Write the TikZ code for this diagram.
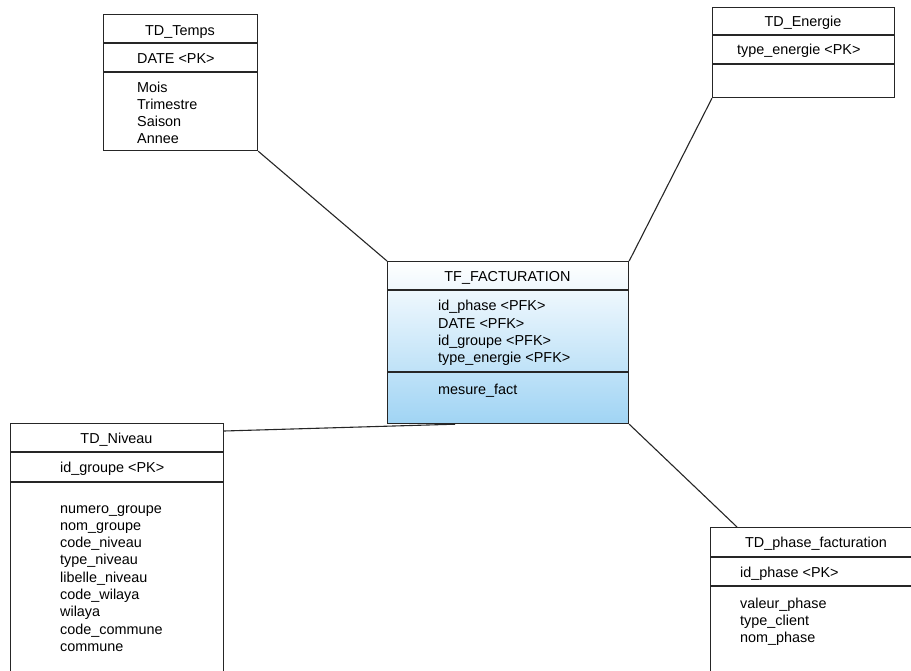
\documentclass[tikz,border=0pt]{standalone}
\usepackage{fontspec}
\setmainfont{Liberation Sans}
\definecolor{factblue}{RGB}{160,212,244}
\begin{document}
\begin{tikzpicture}[x=1pt,y=-1pt,
  table/.style={draw=black!85, line width=1.2pt, anchor=north west, inner sep=0pt, fill=white},
  sep/.style={draw=black!85, line width=1.2pt},
  ttl/.style={anchor=base, inner sep=0pt, font=\fontsize{14.4}{17.3}\selectfont},
  attr/.style={anchor=base west, inner sep=0pt, font=\fontsize{14.4}{17.3}\selectfont},
  link/.style={draw=black!85, line width=1.1pt}]
\useasboundingbox (0,0) rectangle (911,671);
\clip (0,0) rectangle (911,671);

% ---- tables ----
\node[table, minimum width=154pt, minimum height=136pt] (temps) at (103,14) {};
\node[table, minimum width=182pt, minimum height=90pt] (energie) at (712,7) {};
\node[table, minimum width=241pt, minimum height=162pt, top color=white, bottom color=factblue] (fact) at (387,261) {};
\node[table, minimum width=213pt, minimum height=300pt] (niveau) at (10,423) {};
\node[table, minimum width=212pt, minimum height=200pt] (phase) at (710,527) {};

% ---- compartment separators ----
\draw[sep] (103,43) -- (257,43) (103,72) -- (257,72);
\draw[sep] (712,35) -- (894,35) (712,64) -- (894,64);
\draw[sep] (387,290) -- (628,290) (387,372) -- (628,372);
\draw[sep] (10,452) -- (223,452) (10,482) -- (223,482);
\draw[sep] (710,557) -- (922,557) (710,586) -- (922,586);

% ---- TD_Temps ----
\node[ttl] (tempsT) at (180,36) {TD\_Temps};
\node[attr] (tempsK) at (137,64) {DATE <PK>};
\node[attr] (tempsA1) at (137,93) {Mois};
\node[attr] (tempsA2) at (137,110) {Trimestre};
\node[attr] (tempsA3) at (137,127) {Saison};
\node[attr] (tempsA4) at (137,144) {Annee};

% ---- TD_Energie ----
\node[ttl] (energieT) at (803,27) {TD\_Energie};
\node[attr] (energieK) at (737,55) {type\_energie <PK>};

% ---- TF_FACTURATION ----
\node[ttl] (factT) at (507.5,282) {TF\_FACTURATION};
\node[attr] (factK1) at (438,311) {id\_phase <PFK>};
\node[attr] (factK2) at (438,328) {DATE <PFK>};
\node[attr] (factK3) at (438,345) {id\_groupe <PFK>};
\node[attr] (factK4) at (438,362) {type\_energie <PFK>};
\node[attr] (factM) at (438,394) {mesure\_fact};

% ---- TD_Niveau ----
\node[ttl] (niveauT) at (116.5,443) {TD\_Niveau};
\node[attr] (niveauK) at (60,472) {id\_groupe <PK>};
\node[attr] (niveauA1) at (60,513) {numero\_groupe};
\node[attr] (niveauA2) at (60,530.3) {nom\_groupe};
\node[attr] (niveauA3) at (60,547.6) {code\_niveau};
\node[attr] (niveauA4) at (60,564.9) {type\_niveau};
\node[attr] (niveauA5) at (60,582.2) {libelle\_niveau};
\node[attr] (niveauA6) at (60,599.5) {code\_wilaya};
\node[attr] (niveauA7) at (60,616.8) {wilaya};
\node[attr] (niveauA8) at (60,634.1) {code\_commune};
\node[attr] (niveauA9) at (60,651.4) {commune};

% ---- TD_phase_facturation ----
\node[ttl] (phaseT) at (816,547) {TD\_phase\_facturation};
\node[attr] (phaseK) at (740,577) {id\_phase <PK>};
\node[attr] (phaseA1) at (740,608) {valeur\_phase};
\node[attr] (phaseA2) at (740,625.3) {type\_client};
\node[attr] (phaseA3) at (740,642.6) {nom\_phase};

% ---- links between fact and dimensions ----
\coordinate (nivEnd) at ([yshift=-8pt]niveau.north east);
\coordinate (factNiv) at ([xshift=68pt]fact.south west);
\coordinate (phaseEnd) at ([xshift=27pt]phase.north west);
\draw[link] (temps.south east) -- (fact.north west);
\draw[link] (energie.south west) -- (fact.north east);
\draw[link] (nivEnd) -- (factNiv);
\draw[link] (fact.south east) -- (phaseEnd);
\end{tikzpicture}
\end{document}
